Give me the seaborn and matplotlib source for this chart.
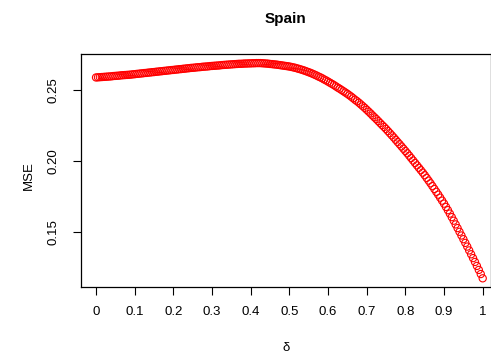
import matplotlib
matplotlib.use('Agg')
import matplotlib.pyplot as plt
import seaborn as sns
import numpy as np
import pandas as pd

# delta grid, 0 to 1 by 0.005
delta = np.round(np.arange(0, 201) * 0.005, 3)

# MSE (one row per 0.05 of delta)
mse = [
    0.2587, 0.2588, 0.2589, 0.2590, 0.2591, 0.2592, 0.2593, 0.2594, 0.2595, 0.2597,
    0.2598, 0.2599, 0.2600, 0.2602, 0.2603, 0.2604, 0.2605, 0.2606, 0.2607, 0.2609,
    0.2610, 0.2612, 0.2613, 0.2615, 0.2616, 0.2618, 0.2619, 0.2621, 0.2622, 0.2624,
    0.2625, 0.2627, 0.2628, 0.2630, 0.2631, 0.2633, 0.2634, 0.2636, 0.2637, 0.2639,
    0.2640, 0.2642, 0.2643, 0.2645, 0.2646, 0.2648, 0.2649, 0.2651, 0.2652, 0.2654,
    0.2655, 0.2656, 0.2658, 0.2659, 0.2660, 0.2662, 0.2663, 0.2664, 0.2665, 0.2667,
    0.2668, 0.2669, 0.2670, 0.2671, 0.2672, 0.2674, 0.2675, 0.2676, 0.2677, 0.2678,
    0.2679, 0.2680, 0.2681, 0.2682, 0.2683, 0.2683, 0.2684, 0.2685, 0.2685, 0.2686,
    0.2686, 0.2687, 0.2687, 0.2688, 0.2688, 0.2688, 0.2687, 0.2686, 0.2685, 0.2684,
    0.2682, 0.2681, 0.2679, 0.2678, 0.2676, 0.2674, 0.2672, 0.2670, 0.2668, 0.2666,
    0.2664, 0.2661, 0.2658, 0.2655, 0.2651, 0.2647, 0.2643, 0.2639, 0.2634, 0.2629,
    0.2624, 0.2619, 0.2613, 0.2607, 0.2601, 0.2594, 0.2588, 0.2581, 0.2573, 0.2566,
    0.2558, 0.2550, 0.2542, 0.2534, 0.2525, 0.2516, 0.2508, 0.2499, 0.2490, 0.2481,
    0.2472, 0.2462, 0.2452, 0.2441, 0.2430, 0.2420, 0.2409, 0.2397, 0.2385, 0.2373,
    0.2360, 0.2347, 0.2334, 0.2320, 0.2307, 0.2294, 0.2280, 0.2266, 0.2252, 0.2239,
    0.2225, 0.2210, 0.2195, 0.2180, 0.2165, 0.2149, 0.2133, 0.2118, 0.2102, 0.2086,
    0.2070, 0.2054, 0.2037, 0.2020, 0.2003, 0.1986, 0.1969, 0.1952, 0.1935, 0.1918,
    0.1900, 0.1881, 0.1862, 0.1843, 0.1823, 0.1803, 0.1783, 0.1763, 0.1742, 0.1721,
    0.1700, 0.1677, 0.1654, 0.1630, 0.1605, 0.1580, 0.1554, 0.1528, 0.1502, 0.1476,
    0.1450, 0.1424, 0.1398, 0.1371, 0.1344, 0.1317, 0.1290, 0.1262, 0.1234, 0.1205,
    0.1175,
]

xticks = [0, 0.1, 0.2, 0.3, 0.4, 0.5, 0.6, 0.7, 0.8, 0.9, 1]
xtick_labels = ["0", "0.1", "0.2", "0.3", "0.4", "0.5", "0.6", "0.7", "0.8", "0.9", "1"]
yticks = [0.15, 0.20, 0.25]
ytick_labels = ["0.15", "0.20", "0.25"]

df = pd.DataFrame({'delta': delta, 'mse': mse})

sns.set_style('ticks')
plt.rcParams['font.family'] = ['Liberation Sans', 'DejaVu Sans']
plt.rcParams['text.color'] = 'black'
plt.rcParams['axes.labelcolor'] = 'black'
plt.rcParams['xtick.color'] = 'black'
plt.rcParams['ytick.color'] = 'black'

fig = plt.figure(figsize=(4.91, 3.59), dpi=100)
ax = fig.add_axes([0.1644, 0.2006, 0.835, 0.6490])

sns.scatterplot(data=df, x='delta', y='mse', ax=ax, marker='o', s=27,
                facecolor='none', edgecolor='red', linewidth=0.8)

ax.set_xlim(-0.0396, 1.0207)
ax.set_ylim(0.1114, 0.2752)
ax.set_xticks(xticks)
ax.set_xticklabels(xtick_labels, fontsize=9.5)
ax.set_yticks(yticks)
ax.set_yticklabels(ytick_labels, fontsize=9.5, rotation=90, va='center')
ax.tick_params(axis='both', length=5.5, width=0.8, color='black', labelcolor='black')
ax.tick_params(axis='x', pad=8.5)
ax.tick_params(axis='y', pad=9.5)
for sp in ax.spines.values():
    sp.set_visible(True)
    sp.set_color('black')
    sp.set_linewidth(0.9)

ax.set_xlabel('δ', fontsize=9.5, color='black')
ax.xaxis.set_label_coords(0.5, -0.235)
ax.set_ylabel('MSE', fontsize=9.5, color='black')
ax.yaxis.set_label_coords(-0.112, 0.48)
ax.set_title('Spain', fontsize=11, fontweight='bold', pad=22.5, color='black')

fig.savefig('out.png', dpi=100)
